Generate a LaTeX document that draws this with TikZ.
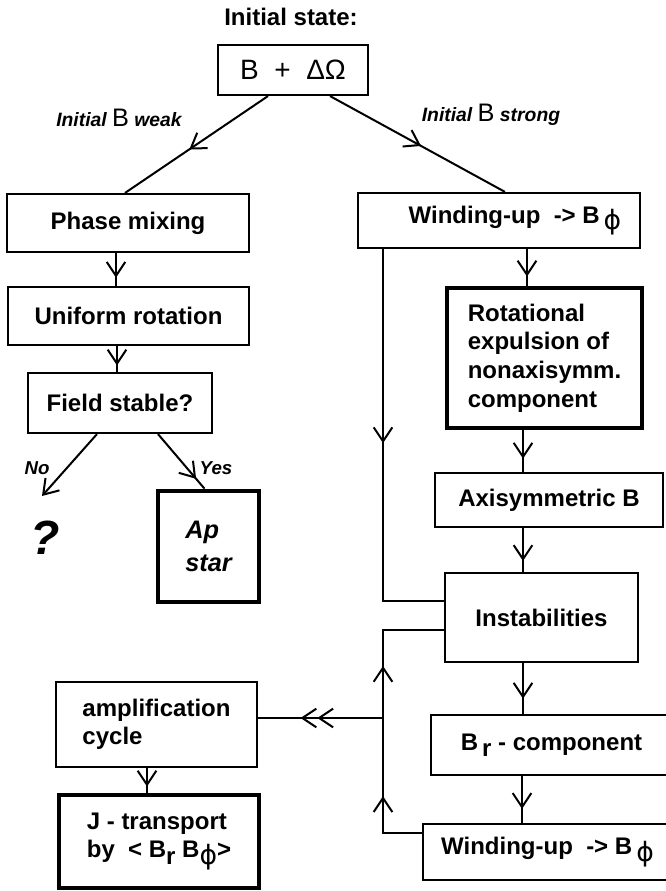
\documentclass[tikz,border=0pt]{standalone}
\usepackage{fontspec}
\setmainfont{Liberation Sans}
\newfontfamily\grk{DejaVu Sans}
\usetikzlibrary{arrows.meta,decorations.markings,calc}

\tikzset{chev/.tip={Straight Barb[length=10.5pt,width=14pt]}}
\newcommand{\phisub}{\raisebox{-0.5ex}{\mdseries\grk\fontsize{20}{20}\selectfont ϕ}}

\begin{document}
\begin{tikzpicture}[x=0.75pt,y=-0.75pt,line width=1.5pt,
  box/.style={draw,line width=1.6pt,inner sep=0pt,align=center,font=\fontsize{18}{21.5}\selectfont\bfseries},
  heavybox/.style={box,line width=3.5pt},
  lab/.style={font=\fontsize{14.5}{16}\selectfont\bfseries\itshape},
  midarrow/.style={postaction={decorate,decoration={markings,mark=at position #1 with {\arrow{chev}}}}},
  twoarrows/.style 2 args={postaction={decorate,decoration={markings,
    mark=at position #1 with {\arrow{chev}},mark=at position #2 with {\arrow{chev}}}}},
  dblarrow/.style={postaction={decorate,decoration={markings,mark=at position #1 with {\arrow{chev[]chev}}}}}]
\useasboundingbox (0,0) rectangle (666,891);

% start
\node[font=\fontsize{18}{21}\selectfont\bfseries] (title) at (291,17) {Initial state:};
\node[box,font=\fontsize{21}{24}\selectfont,minimum width=112.5pt,minimum height=37.5pt] (init) at (293,70) {B \ + \ ΔΩ};
\node[lab] (weak) at (119,118) {Initial {\normalfont\fontsize{19}{19}\selectfont B} weak};
\node[lab] (strong) at (491,115) {Initial {\normalfont\fontsize{19}{19}\selectfont B} strong};

% weak field branch
\node[box,minimum width=181.5pt,minimum height=43.5pt] (phase) at (128,223) {Phase mixing};
\node[box,minimum width=180.75pt,minimum height=43.5pt] (unif) at (128.5,316) {Uniform rotation};
\node[box,minimum width=138pt,minimum height=45pt] (stable) at (120,403) {Field stable?};
\node[heavybox,align=left,font=\fontsize{19}{25}\selectfont\bfseries\itshape,minimum width=75.75pt,minimum height=83.25pt] (apstar) at (208.5,546.5) {Ap\\star};
\node[font=\fontsize{36}{36}\selectfont\bfseries\itshape] (unknown) at (45,538) {?};
\node[lab,font=\fontsize{14}{15}\selectfont\bfseries\itshape] (no) at (37,468) {No};
\node[lab,font=\fontsize{14}{15}\selectfont\bfseries\itshape] (yes) at (216,468) {Yes};

% strong field branch
\node[box,minimum width=211.5pt,minimum height=41.25pt] (wind) at (499,220.5) {\hspace*{24pt}Winding-up\ \ -> B\,\phisub};
\node[heavybox,align=left,minimum width=146.25pt,minimum height=105pt] (expul) at (544.5,358) {Rotational\\expulsion of\\nonaxisymm.\\component};
\node[box,minimum width=171pt,minimum height=40.5pt] (axisym) at (549,500) {Axisymmetric B};
\node[box,minimum width=144.75pt,minimum height=66.75pt] (instab) at (541.5,617.5) {Instabilities};
\node[box,minimum width=180.75pt,minimum height=45pt] (brcomp) at (551.5,745) {B\,\raisebox{-0.5ex}{r} - component};
\node[box,minimum width=186.75pt,minimum height=42pt] (windb) at (547.5,852) {Winding-up\ \ -> B\,\phisub};
\node[box,align=left,font=\fontsize{18}{21}\selectfont\bfseries,minimum width=150.75pt,minimum height=63.75pt] (ampl) at (156.5,724.5) {amplification\\cycle};
\node[heavybox,align=left,font=\fontsize{18}{21}\selectfont\bfseries,minimum width=150pt,minimum height=69.75pt] (jtrans) at (159,841.5) {J - transport\\by \ < B\raisebox{-0.5ex}{r} B\phisub>};

\coordinate (bus) at (383,0);
\coordinate (split) at (383,718);
\coordinate (inA) at ($(instab.west)+(0,-16.5)$);
\coordinate (inB) at ($(instab.west)+(0,12.5)$);
\coordinate (noend) at (42,496);

% connectors
\draw[midarrow=0.55] ($(init.south)+(-25,0)$) -- ($(phase.north)+(-3,0)$);
\draw[midarrow=0.52] ($(init.south)+(37,0)$) -- ($(wind.north)+(6,0)$);
\draw[midarrow=0.75] ($(phase.south)+(-12,0)$) coordinate (a1) -- (a1 |- unif.north);
\draw[midarrow=0.75] ($(unif.south)+(-11.5,0)$) coordinate (a2) -- (a2 |- stable.north);
\draw[-chev] ($(stable.south)+(-23,0)$) -- (noend);
\draw[midarrow=0.82] ($(stable.south)+(38,0)$) -- ($(apstar.north)+(-4,0)$);
\draw[midarrow=0.75] ($(wind.south)+(28,0)$) coordinate (a3) -- (a3 |- expul.north);
\draw[midarrow=0.68] ($(expul.south)+(-21.5,0)$) coordinate (a4) -- (a4 |- axisym.north);
\draw[midarrow=0.75] ($(axisym.south)+(-26,0)$) coordinate (a5) -- (a5 |- instab.north);
\draw[midarrow=0.7] ($(instab.south)+(-18.5,0)$) coordinate (a6) -- (a6 |- brcomp.north);
\draw[midarrow=0.7] ($(brcomp.south)+(-29.5,0)$) coordinate (a7) -- (a7 |- windb.north);
\draw[midarrow=0.75] ($(ampl.south)+(-9.5,0)$) coordinate (a8) -- (a8 |- jtrans.north);
\draw[midarrow=0.47] (wind.south -| bus) |- (inA);
\draw[twoarrows={0.25}{0.68}] ($(windb.west)+(0,-19)$) -| (bus |- inB) -- (inB);
\draw[dblarrow=0.66] (split) -- (ampl.east |- split);
\end{tikzpicture}
\end{document}
